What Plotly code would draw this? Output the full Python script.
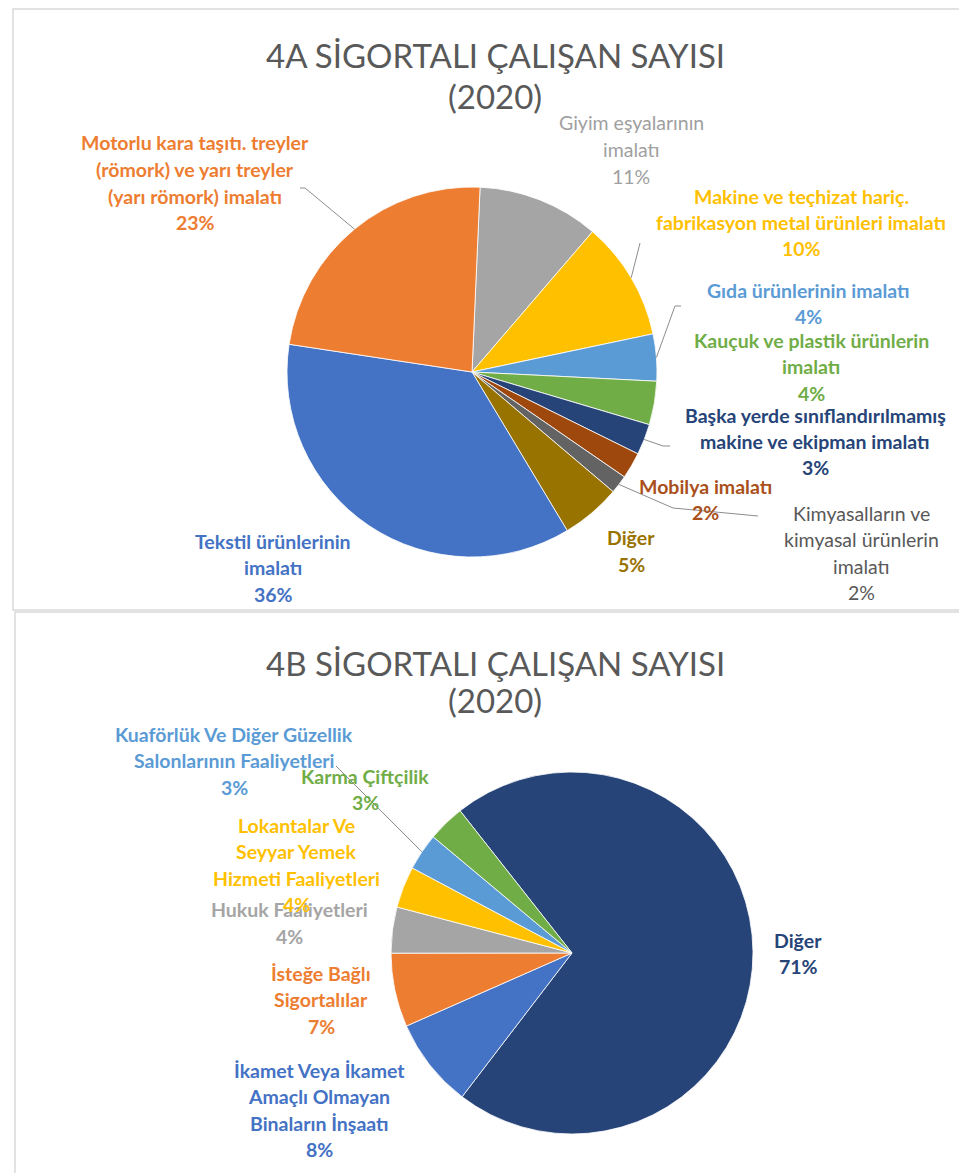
import math
import plotly.graph_objects as go

W, H = 967, 1173

# ---------------- DATA ----------------
# Chart 4A (clockwise from the top); "\n" marks a label line break
a_categories = [
    "Giyim eşyalarının\nimalatı",
    "Makine ve teçhizat hariç.\nfabrikasyon metal ürünleri imalatı",
    "Gıda ürünlerinin imalatı",
    "Kauçuk ve plastik ürünlerin\nimalatı",
    "Başka yerde sınıflandırılmamış\nmakine ve ekipman imalatı",
    "Mobilya imalatı",
    "Kimyasalların ve\nkimyasal ürünlerin\nimalatı",
    "Diğer",
    "Tekstil ürünlerinin\nimalatı",
    "Motorlu kara taşıtı. treyler\n(römork) ve yarı treyler\n(yarı römork) imalatı",
]
a_values = [10.6, 10.4, 4.1, 3.8, 2.7, 2.3, 1.6, 5.2, 36.0, 23.3]

# Chart 4B (clockwise from the top)
b_categories = [
    "Diğer",
    "İkamet Veya İkamet\nAmaçlı Olmayan\nBinaların İnşaatı",
    "İsteğe Bağlı\nSigortalılar",
    "Hukuk Faaliyetleri",
    "Lokantalar Ve\nSeyyar Yemek\nHizmeti Faaliyetleri",
    "Kuaförlük Ve Diğer Güzellik\nSalonlarının Faaliyetleri",
    "Karma Çiftçilik",
]
b_values = [71.0, 8.0, 6.6, 4.1, 3.7, 3.3, 3.3]

a_title = ["4A SİGORTALI ÇALIŞAN SAYISI", "(2020)"]
b_title = ["4B SİGORTALI ÇALIŞAN SAYISI", "(2020)"]

# ---------------- STYLE / LAYOUT ----------------
a_colors = ["#A5A5A5", "#FFC000", "#5B9BD5", "#70AD47", "#264478",
            "#9E480E", "#636363", "#997300", "#4472C4", "#ED7D31"]
a_text_colors = ["#A0A0A0", "#FFC000", "#5B9BD5", "#70AD47", "#264478",
                 "#A9501C", "#595959", "#997300", "#4472C4", "#ED7D31"]
a_bold = [False, True, True, True, True, True, False, True, True, True]
a_label_pos = [(623, 115), (793, 188), (800, 282), (803, 332), (807, 407),
               (697, 478), (853, 505), (623, 530), (265, 533), (187, 135)]
a_center, a_radius, a_rotation = (464, 364), 185, 2.5
# leader lines: index -> extra points (label side), pie edge point computed
a_leaders = {9: [(292, 180), (297, 180)], 1: [(632, 235)],
             2: [(673, 298), (667, 298)], 4: [(662, 438), (655, 438)],
             6: [(750, 508), (665, 500)]}

b_colors = ["#264478", "#4472C4", "#ED7D31", "#A5A5A5", "#FFC000", "#5B9BD5", "#70AD47"]
b_text_colors = ["#264478", "#4472C4", "#ED7D31", "#A5A5A5", "#FFC000", "#5B9BD5", "#70AD47"]
b_bold = [True, True, True, True, True, True, True]
b_label_pos = [(790, 932), (311, 1062), (313, 965), (281, 902), (288, 817),
               (226, 726), (357, 768)]
b_center, b_radius, b_rotation = (564, 945), 181, -38.2
b_leaders = {5: [(328, 758)]}

FONT = "Lato"
LINE_H = 26.5
LABEL_SIZE = 19.5
TITLE_SIZE = 33


def px(x):
    return x / W


def py(y):
    return 1 - y / H


def pie_domain(center, r):
    cx, cy = center
    return dict(x=[px(cx - r), px(cx + r)], y=[py(cy + r), py(cy - r)])


def edge_point(values, idx, center, r, rotation):
    total = sum(values)
    cum = sum(values[:idx]) + values[idx] / 2
    th = math.radians(rotation + 360 * cum / total)
    return center[0] + r * math.sin(th), center[1] - r * math.cos(th)


fig = go.Figure()
for cats, vals, cols, center, r, rot in [
    (a_categories, a_values, a_colors, a_center, a_radius, a_rotation),
    (b_categories, b_values, b_colors, b_center, b_radius, b_rotation),
]:
    fig.add_trace(go.Pie(
        labels=[c.replace("\n", " ") for c in cats], values=vals,
        marker=dict(colors=cols, line=dict(color="white", width=0.8)),
        sort=False, direction="clockwise", rotation=rot,
        textinfo="none", hoverinfo="label+percent",
        domain=pie_domain(center, r), showlegend=False,
    ))

annotations = []
shapes = []

# panels
shapes.append(dict(type="rect", xref="paper", yref="paper", x0=px(5), x1=px(965),
                   y0=py(602), y1=py(1), line=dict(color="#D9D9D9", width=1.5),
                   fillcolor="rgba(0,0,0,0)", layer="below"))
shapes.append(dict(type="rect", xref="paper", yref="paper", x0=px(7), x1=px(965),
                   y0=py(1170), y1=py(604), line=dict(color="#D9D9D9", width=1.5),
                   fillcolor="rgba(0,0,0,0)", layer="below"))

# titles
for lines, ys in [(a_title, (47, 88)), (b_title, (655, 692))]:
    for t, y in zip(lines, ys):
        annotations.append(dict(text=t, x=px(487), y=py(y), xref="paper", yref="paper",
                                xanchor="center", yanchor="middle", showarrow=False,
                                font=dict(family=FONT, size=TITLE_SIZE, color="#595959")))

# data labels
for cats, vals, tcols, bold, pos in [
    (a_categories, a_values, a_text_colors, a_bold, a_label_pos),
    (b_categories, b_values, b_text_colors, b_bold, b_label_pos),
]:
    total = sum(vals)
    for c, v, tc, b, (x0, y0) in zip(cats, vals, tcols, bold, pos):
        lines = c.split("\n") + [f"{round(v / total * 100)}%"]
        for k, ln in enumerate(lines):
            txt = f"<b>{ln}</b>" if b else ln
            annotations.append(dict(text=txt, x=px(x0), y=py(y0 + k * LINE_H),
                                    xref="paper", yref="paper", xanchor="center",
                                    yanchor="middle", showarrow=False,
                                    font=dict(family=FONT, size=LABEL_SIZE, color=tc)))

# leader lines
for vals, leaders, center, r, rot in [
    (a_values, a_leaders, a_center, a_radius, a_rotation),
    (b_values, b_leaders, b_center, b_radius, b_rotation),
]:
    for idx, pts in leaders.items():
        ex, ey = edge_point(vals, idx, center, r, rot)
        allpts = list(pts) + [(ex, ey)]
        path = "M " + " L ".join(f"{px(x):.5f},{py(y):.5f}" for x, y in allpts)
        shapes.append(dict(type="path", xref="paper", yref="paper", path=path,
                           line=dict(color="#8C8C8C", width=1)))

fig.update_layout(
    width=W, height=H, margin=dict(l=0, r=0, t=0, b=0),
    paper_bgcolor="white", plot_bgcolor="white",
    annotations=annotations, shapes=shapes,
    font=dict(family=FONT),
)

fig.write_html("out.html")
